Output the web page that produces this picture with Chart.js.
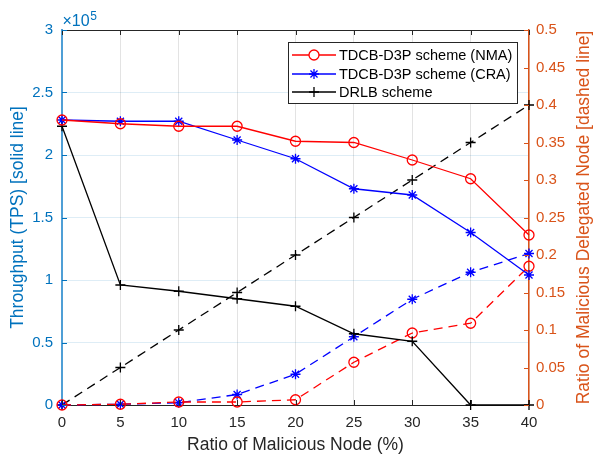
<!DOCTYPE html>
<html>
<head>
<meta charset="utf-8">
<script src="https://cdn.jsdelivr.net/npm/chart.js@4/dist/chart.umd.min.js"></script>
<style>
  html, body { margin: 0; padding: 0; background: #fff; }
</style>
</head>
<body>
<canvas id="myChart" width="596" height="455"></canvas>
<script>
// x values: ratio of malicious node (%)
const ratios = [0, 5, 10, 15, 20, 25, 30, 35, 40];
// throughput, in units of 10^5 TPS (left axis, solid lines)
const nmaThroughput = [2.28, 2.25, 2.23, 2.23, 2.11, 2.10, 1.96, 1.81, 1.36];
const craThroughput = [2.28, 2.27, 2.27, 2.12, 1.97, 1.73, 1.68, 1.38, 1.04];
const drlbThroughput = [2.23, 0.96, 0.91, 0.85, 0.79, 0.57, 0.51, 0, 0];
// ratio of malicious delegated node (right axis, dashed lines)
const nmaDelegated = [0, 0.001, 0.004, 0.004, 0.007, 0.057, 0.096, 0.109, 0.185];
const craDelegated = [0, 0.001, 0.003, 0.014, 0.041, 0.091, 0.141, 0.177, 0.202];
const drlbDelegated = [0, 0.05, 0.1, 0.15, 0.2, 0.25, 0.3, 0.35, 0.4];

const legendLabels = ['TDCB-D3P scheme (NMA)', 'TDCB-D3P scheme (CRA)', 'DRLB scheme'];

const FONT = "'Liberation Sans', Arial, sans-serif";
const BLUE_AX = '#0072BD';
const ORANGE_AX = '#D95319';
const DARK = '#262626';

const toPoints = arr => ratios.map((x, i) => ({ x: x, y: arr[i] }));
const cleanNum = v => String(parseFloat(v.toFixed(2)));

const makeSet = (label, values, color, style, axis, dashed) => ({
  label: label,
  data: toPoints(values),
  yAxisID: axis,
  borderColor: color,
  backgroundColor: 'transparent',
  borderWidth: 1.3,
  borderDash: dashed ? [9, 6] : [],
  pointStyle: style,
  pointRadius: 5,
  pointBorderWidth: 1.3,
  pointBorderColor: color,
  pointBackgroundColor: 'transparent',
  tension: 0,
  clip: false
});

const datasets = [
  makeSet(legendLabels[0], nmaThroughput, '#ff0000', 'circle', 'y', false),
  makeSet(legendLabels[1], craThroughput, '#0000ff', 'star', 'y', false),
  makeSet(legendLabels[2], drlbThroughput, '#000000', 'cross', 'y', false),
  makeSet(legendLabels[0], nmaDelegated, '#ff0000', 'circle', 'y1', true),
  makeSet(legendLabels[1], craDelegated, '#0000ff', 'star', 'y1', true),
  makeSet(legendLabels[2], drlbDelegated, '#000000', 'cross', 'y1', true)
];

// frame, inward ticks, titles, exponent and boxed legend
const decorations = {
  id: 'decorations',
  afterDraw(chart) {
    const ctx = chart.ctx;
    const area = chart.chartArea;
    const sx = chart.scales.x, sy = chart.scales.y, sy1 = chart.scales.y1;
    ctx.save();

    // top frame line
    ctx.strokeStyle = DARK;
    ctx.lineWidth = 1;
    ctx.beginPath();
    ctx.moveTo(area.left, area.top + 0.5);
    ctx.lineTo(area.right, area.top + 0.5);
    ctx.stroke();

    // inward ticks
    ctx.beginPath();
    sx.ticks.forEach(t => {
      const px = Math.round(sx.getPixelForValue(t.value)) + 0.5;
      ctx.moveTo(px, area.bottom); ctx.lineTo(px, area.bottom - 5);
      ctx.moveTo(px, area.top); ctx.lineTo(px, area.top + 5);
    });
    ctx.stroke();
    ctx.strokeStyle = BLUE_AX;
    ctx.beginPath();
    sy.ticks.forEach(t => {
      const py = Math.round(sy.getPixelForValue(t.value)) + 0.5;
      ctx.moveTo(area.left, py); ctx.lineTo(area.left + 5, py);
    });
    ctx.stroke();
    ctx.strokeStyle = ORANGE_AX;
    ctx.beginPath();
    sy1.ticks.forEach(t => {
      const py = Math.round(sy1.getPixelForValue(t.value)) + 0.5;
      ctx.moveTo(area.right, py); ctx.lineTo(area.right - 5, py);
    });
    ctx.stroke();

    // exponent label
    ctx.fillStyle = BLUE_AX;
    ctx.textAlign = 'left';
    ctx.textBaseline = 'alphabetic';
    ctx.font = '16px ' + FONT;
    ctx.fillText('\u00d710', area.left + 0.5, 26);
    const w = ctx.measureText('\u00d710').width;
    ctx.font = '12px ' + FONT;
    ctx.fillText('5', area.left + w + 1, 20);

    // axis titles
    const midY = (area.top + area.bottom) / 2;
    ctx.font = '17.5px ' + FONT;
    ctx.textAlign = 'center';
    ctx.textBaseline = 'middle';
    ctx.save();
    ctx.translate(18, midY);
    ctx.rotate(-Math.PI / 2);
    ctx.fillStyle = BLUE_AX;
    ctx.fillText('Throughput (TPS) [solid line]', 0, 0);
    ctx.restore();
    ctx.save();
    ctx.translate(584, midY);
    ctx.rotate(-Math.PI / 2);
    ctx.fillStyle = ORANGE_AX;
    ctx.fillText('Ratio of Malicious Delegated Node [dashed line]', 0, 0);
    ctx.restore();
    ctx.fillStyle = DARK;
    ctx.fillText('Ratio of Malicious Node (%)', (area.left + area.right) / 2, 445);

    // legend box
    const bx = 288, by = 42, bw = 229, bh = 61;
    ctx.fillStyle = '#ffffff';
    ctx.fillRect(bx, by, bw, bh);
    ctx.strokeStyle = DARK;
    ctx.lineWidth = 1;
    ctx.strokeRect(bx + 0.5, by + 0.5, bw, bh);
    const rows = [55, 74, 92];
    ctx.font = '14.5px ' + FONT;
    ctx.textAlign = 'left';
    for (let i = 0; i < 3; i++) {
      const ds = chart.data.datasets[i];
      const y = rows[i];
      ctx.strokeStyle = ds.borderColor;
      ctx.lineWidth = 1.3;
      ctx.beginPath();
      ctx.moveTo(292, y); ctx.lineTo(336, y);
      ctx.stroke();
      Chart.helpers.drawPoint(ctx, {
        pointStyle: ds.pointStyle, radius: 5, rotation: 0, borderWidth: 1.3
      }, 314, y);
      ctx.fillStyle = '#000000';
      ctx.fillText(ds.label, 339, y + 1);
    }
    ctx.restore();
  }
};

let ctx = document.getElementById('myChart').getContext('2d');
let myChart = new Chart(ctx, {
  type: 'line',
  data: { datasets: datasets },
  options: {
    responsive: false,
    animation: false,
    layout: { padding: { top: 30, left: 0, right: 0, bottom: 0 } },
    plugins: { legend: { display: false }, tooltip: { enabled: false } },
    scales: {
      x: {
        type: 'linear', min: 0, max: 40,
        afterFit: s => { s.height = 50; },
        ticks: { stepSize: 5, color: DARK, padding: 9, font: { family: FONT, size: 15 } },
        grid: { color: '#e3e3e3', drawTicks: false },
        border: { color: DARK, width: 1 }
      },
      y: {
        position: 'left', min: 0, max: 3,
        afterFit: s => { s.width = 62; },
        ticks: {
          stepSize: 0.5, color: BLUE_AX, padding: 9, font: { family: FONT, size: 15 },
          callback: v => cleanNum(v)
        },
        grid: { color: 'rgba(0,114,189,0.13)', drawTicks: false },
        border: { color: '#4f9fd6', width: 2 }
      },
      y1: {
        position: 'right', min: 0, max: 0.5,
        afterFit: s => { s.width = 67; },
        ticks: {
          stepSize: 0.05, color: ORANGE_AX, padding: 7, font: { family: FONT, size: 15 },
          callback: v => cleanNum(v)
        },
        grid: { display: false, drawTicks: false },
        border: { color: ORANGE_AX, width: 1.5 }
      }
    }
  },
  plugins: [decorations]
});
</script>
</body>
</html>
